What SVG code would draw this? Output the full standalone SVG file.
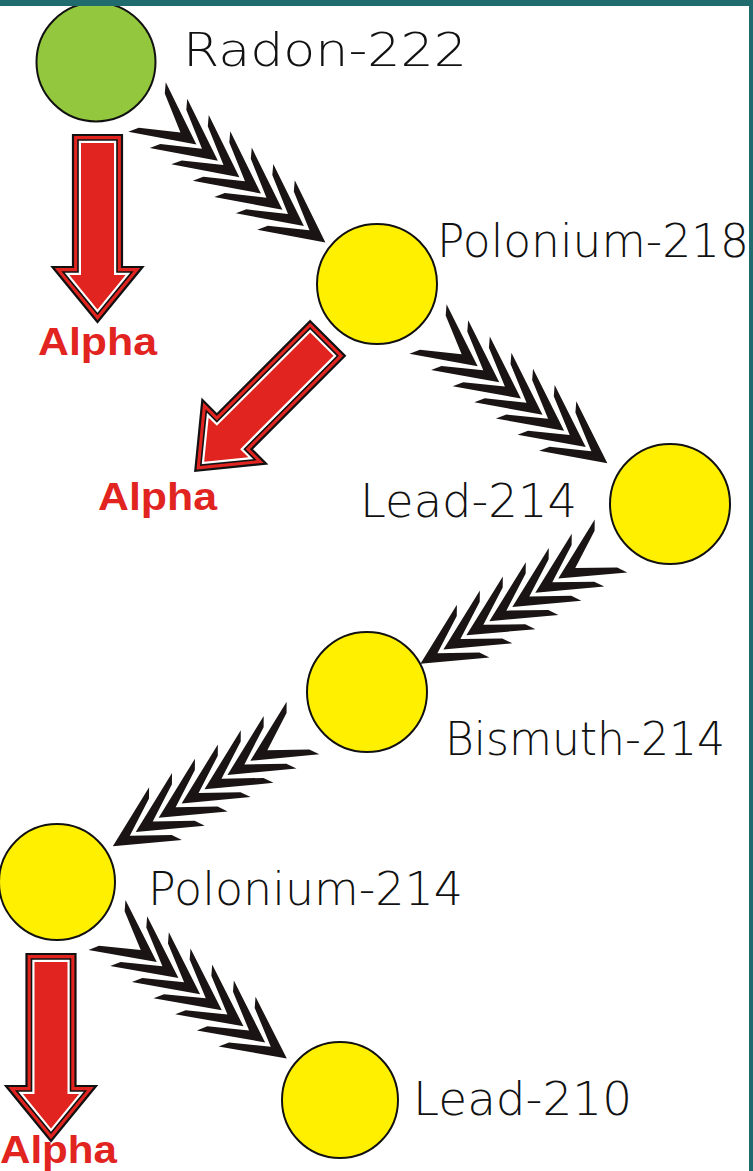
<svg xmlns="http://www.w3.org/2000/svg" xmlns:xlink="http://www.w3.org/1999/xlink" width="753" height="1171" viewBox="0 0 753 1171">
<style>
.nuc{stroke:#111;stroke-width:2}
.green{fill:#93c83e}
.yellow{fill:#fff000}
.lbl{font-family:"DejaVu Sans","Liberation Sans",sans-serif;font-weight:200;font-size:46px;fill:#111}
.alpha{font-family:"Liberation Sans",Arial,sans-serif;font-weight:bold;font-size:38px;fill:#e1241f}
.chev{fill:#1a1414}
</style>
<defs>
<path id="ch" class="chev" d="M0,0 L-62,-31 L-56,-21.5 L-20,0 L-56,21.5 L-62,31 Z"/>
<g id="chain">
<use xlink:href="#ch" x="62"/>
<use xlink:href="#ch" x="89"/>
<use xlink:href="#ch" x="116"/>
<use xlink:href="#ch" x="143"/>
<use xlink:href="#ch" x="170"/>
<use xlink:href="#ch" x="197"/>
<use xlink:href="#ch" x="224"/>
</g>
<g id="redarrow">
<polygon points="-24.5,0 24.5,0 24.5,132 45,132 0,187 -45,132 -24.5,132" fill="#e1241f" stroke="#111" stroke-width="2.2" stroke-linejoin="miter"/>
<polygon points="-19.5,5 19.5,5 19.5,137 34.4,137 0,179.1 -34.4,137 -19.5,137" fill="#fff" stroke="#111" stroke-width="1.6"/>
<polygon points="-16.5,8 16.5,8 16.5,140 28.1,140 0,174.4 -28.1,140 -16.5,140" fill="#e1241f"/>
</g>
</defs>
<rect width="753" height="1171" fill="#fff"/>
<g id="connectors">
<use xlink:href="#chain" transform="translate(147,107) rotate(37.2)"/>
<use xlink:href="#chain" transform="translate(428,329) rotate(36.8)"/>
<use xlink:href="#chain" transform="translate(611,546) rotate(148.3)"/>
<use xlink:href="#chain" transform="translate(303,728) rotate(148.1)"/>
<use xlink:href="#chain" transform="translate(107,925) rotate(36.6)"/>
<use xlink:href="#redarrow" transform="translate(97.5,135)"/>
<use xlink:href="#redarrow" transform="translate(327.5,338.5) rotate(45)"/>
<use xlink:href="#redarrow" transform="translate(51,954)"/>
</g>
<g id="radon222">
<circle class="nuc green" cx="96" cy="62" r="59.5"/>
<text class="lbl" x="183" y="66" textLength="284" lengthAdjust="spacingAndGlyphs">Radon-222</text>
</g>
<g id="polonium218">
<circle class="nuc yellow" cx="377" cy="284" r="60"/>
<text class="lbl" x="437" y="257" textLength="312" lengthAdjust="spacingAndGlyphs">Polonium-218</text>
</g>
<g id="lead214">
<circle class="nuc yellow" cx="670" cy="504" r="60"/>
<text class="lbl" x="360" y="517" textLength="217" lengthAdjust="spacingAndGlyphs">Lead-214</text>
</g>
<g id="bismuth214">
<circle class="nuc yellow" cx="367" cy="692" r="60"/>
<text class="lbl" x="445" y="755" textLength="280" lengthAdjust="spacingAndGlyphs">Bismuth-214</text>
</g>
<g id="polonium214">
<circle class="nuc yellow" cx="57" cy="882" r="58"/>
<text class="lbl" x="148" y="905" textLength="315" lengthAdjust="spacingAndGlyphs">Polonium-214</text>
</g>
<g id="lead210">
<circle class="nuc yellow" cx="340" cy="1100" r="58"/>
<text class="lbl" x="413" y="1115" textLength="219" lengthAdjust="spacingAndGlyphs">Lead-210</text>
</g>
<g id="alpha1"><text class="alpha" x="38" y="355" textLength="119" lengthAdjust="spacingAndGlyphs">Alpha</text></g>
<g id="alpha2"><text class="alpha" x="98" y="510" textLength="119" lengthAdjust="spacingAndGlyphs">Alpha</text></g>
<g id="alpha3"><text class="alpha" x="0" y="1163" font-size="36" textLength="117" lengthAdjust="spacingAndGlyphs">Alpha</text></g>
<g id="frame">
<rect x="0" y="0" width="753" height="6" fill="#1f6b6d"/>
<rect x="749" y="0" width="4" height="1171" fill="#1f6b6d"/>
</g>
</svg>
